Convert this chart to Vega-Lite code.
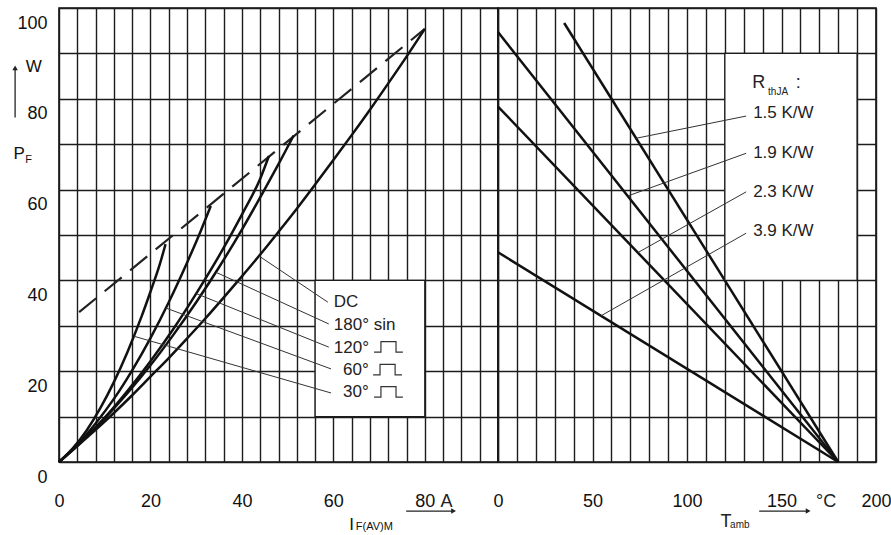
{
  "$schema": "https://vega.github.io/schema/vega-lite/v6.json",
  "padding": {"left": 11, "top": 7, "right": 0, "bottom": 0},
  "spacing": 0,
  "bounds": "flush",
  "config": {
    "view": {"stroke": "#111", "strokeWidth": 1.6},
    "font": "Liberation Sans",
    "axis": {"domain": false, "ticks": false, "grid": true, "gridColor": "#1c1c1c", "gridWidth": 1.4, "gridOpacity": 1, "labelFont": "Liberation Sans", "labelFontSize": 18, "labelColor": "#111", "labelOverlap": false, "labelFlush": false, "title": null},
    "text": {"font": "Liberation Sans", "color": "#111"}
  },
  "datasets": {
    "limit": [{"I": 4.4, "P": 33.0}, {"I": 80, "P": 95.4}],
    "curves": [
      {"mode": "30", "I": 0, "P": 0}, {"mode": "30", "I": 3, "P": 3.0}, {"mode": "30", "I": 6, "P": 6.9}, {"mode": "30", "I": 9, "P": 11.8}, {"mode": "30", "I": 12, "P": 17.6}, {"mode": "30", "I": 15, "P": 24.3}, {"mode": "30", "I": 18, "P": 31.9}, {"mode": "30", "I": 20, "P": 37.5}, {"mode": "30", "I": 22, "P": 43.4}, {"mode": "30", "I": 23.3, "P": 48.0},
      {"mode": "60", "I": 0, "P": 0}, {"mode": "60", "I": 4, "P": 3.8}, {"mode": "60", "I": 8, "P": 8.5}, {"mode": "60", "I": 12, "P": 13.9}, {"mode": "60", "I": 16, "P": 20.2}, {"mode": "60", "I": 20, "P": 27.3}, {"mode": "60", "I": 24, "P": 35.2}, {"mode": "60", "I": 28, "P": 43.9}, {"mode": "60", "I": 31, "P": 50.9}, {"mode": "60", "I": 33.2, "P": 56.4},
      {"mode": "120", "I": 0, "P": 0}, {"mode": "120", "I": 5, "P": 4.6}, {"mode": "120", "I": 10, "P": 9.8}, {"mode": "120", "I": 15, "P": 15.7}, {"mode": "120", "I": 20, "P": 22.2}, {"mode": "120", "I": 25, "P": 29.3}, {"mode": "120", "I": 30, "P": 37.1}, {"mode": "120", "I": 35, "P": 45.4}, {"mode": "120", "I": 40, "P": 54.5}, {"mode": "120", "I": 44, "P": 62.4}, {"mode": "120", "I": 45.9, "P": 67.4},
      {"mode": "180", "I": 0, "P": 0}, {"mode": "180", "I": 5, "P": 4.5}, {"mode": "180", "I": 10, "P": 9.6}, {"mode": "180", "I": 15, "P": 15.2}, {"mode": "180", "I": 20, "P": 21.3}, {"mode": "180", "I": 25, "P": 28.0}, {"mode": "180", "I": 30, "P": 35.2}, {"mode": "180", "I": 35, "P": 42.9}, {"mode": "180", "I": 40, "P": 51.2}, {"mode": "180", "I": 45, "P": 60.1}, {"mode": "180", "I": 48, "P": 65.6}, {"mode": "180", "I": 51.3, "P": 71.9},
      {"mode": "DC", "I": 0, "P": 0}, {"mode": "DC", "I": 4, "P": 3.5}, {"mode": "DC", "I": 8, "P": 7.1}, {"mode": "DC", "I": 12, "P": 10.8}, {"mode": "DC", "I": 16, "P": 14.7}, {"mode": "DC", "I": 20, "P": 18.8}, {"mode": "DC", "I": 24, "P": 22.9}, {"mode": "DC", "I": 28, "P": 27.2}, {"mode": "DC", "I": 32, "P": 31.6}, {"mode": "DC", "I": 36, "P": 36.2}, {"mode": "DC", "I": 40, "P": 40.9}, {"mode": "DC", "I": 44, "P": 45.7}, {"mode": "DC", "I": 48, "P": 50.7}, {"mode": "DC", "I": 52, "P": 55.8}, {"mode": "DC", "I": 56, "P": 61.1}, {"mode": "DC", "I": 60, "P": 66.5}, {"mode": "DC", "I": 64, "P": 72.0}, {"mode": "DC", "I": 68, "P": 77.6}, {"mode": "DC", "I": 72, "P": 83.4}, {"mode": "DC", "I": 76, "P": 89.3}, {"mode": "DC", "I": 80, "P": 95.4}
    ],
    "boxL": [{"I": 56, "I2": 80, "P": 10, "P2": 40}],
    "leadL": [
      {"I": 43.7, "P": 45.4, "I2": 58.8, "P2": 35.2},
      {"I": 34.3, "P": 41.8, "I2": 59.0, "P2": 30.4},
      {"I": 30.0, "P": 37.1, "I2": 59.0, "P2": 25.3},
      {"I": 23.4, "P": 33.9, "I2": 59.5, "P2": 20.5},
      {"I": 16.4, "P": 27.7, "I2": 59.5, "P2": 15.2}
    ],
    "labL": [
      {"I": 60.1, "P": 35.2, "text": "DC"},
      {"I": 60.1, "P": 30.2, "text": "180° sin"},
      {"I": 60.1, "P": 25.1, "text": "120°"},
      {"I": 62.1, "P": 20.3, "text": "60°"},
      {"I": 62.1, "P": 15.4, "text": "30°"}
    ],
    "pulse": [
      {"sym": "120", "k": 1, "I": 68.9, "P": 24.2}, {"sym": "120", "k": 2, "I": 70.4, "P": 24.2}, {"sym": "120", "k": 3, "I": 70.4, "P": 26.5}, {"sym": "120", "k": 4, "I": 73.7, "P": 26.5}, {"sym": "120", "k": 5, "I": 73.7, "P": 24.2}, {"sym": "120", "k": 6, "I": 75.2, "P": 24.2},
      {"sym": "60", "k": 1, "I": 68.7, "P": 19.2}, {"sym": "60", "k": 2, "I": 70.2, "P": 19.2}, {"sym": "60", "k": 3, "I": 70.2, "P": 21.5}, {"sym": "60", "k": 4, "I": 73.5, "P": 21.5}, {"sym": "60", "k": 5, "I": 73.5, "P": 19.2}, {"sym": "60", "k": 6, "I": 75.0, "P": 19.2},
      {"sym": "30", "k": 1, "I": 68.9, "P": 14.3}, {"sym": "30", "k": 2, "I": 70.4, "P": 14.3}, {"sym": "30", "k": 3, "I": 70.4, "P": 16.6}, {"sym": "30", "k": 4, "I": 73.7, "P": 16.6}, {"sym": "30", "k": 5, "I": 73.7, "P": 14.3}, {"sym": "30", "k": 6, "I": 75.2, "P": 14.3}
    ],
    "bigL": [
      {"I": -8.7, "P": 67.8, "text": "P"},
      {"I": -5.5, "P": 86.9, "text": "W"},
      {"I": 64.0, "P": -13.9, "text": "I"}
    ],
    "smallL": [
      {"I": -7.4, "P": 66.6, "text": "F"},
      {"I": 64.9, "P": -14.3, "text": "F(AV)M"}
    ],
    "arrowL": [{"I": -9.6, "P": 75.9, "P2": 86.8}],
    "headL": [{"I": -9.6, "P": 86.8}],
    "rth": [
      {"R": "1.5", "T": 35, "P": 96.7}, {"R": "1.5", "T": 180, "P": 0},
      {"R": "1.9", "T": 0, "P": 94.7}, {"R": "1.9", "T": 180, "P": 0},
      {"R": "2.3", "T": 0, "P": 78.3}, {"R": "2.3", "T": 180, "P": 0},
      {"R": "3.9", "T": 0, "P": 46.2}, {"R": "3.9", "T": 180, "P": 0}
    ],
    "boxR": [{"T": 120, "T2": 190, "P": 40, "P2": 90}],
    "leadR": [
      {"T": 73.0, "P": 71.3, "T2": 131.3, "P2": 76.2},
      {"T": 68.7, "P": 58.6, "T2": 131.3, "P2": 68.0},
      {"T": 73.9, "P": 46.1, "T2": 131.3, "P2": 59.5},
      {"T": 54.5, "P": 32.2, "T2": 131.3, "P2": 50.4}
    ],
    "labR": [
      {"T": 135, "P": 76.9, "text": "1.5 K/W"},
      {"T": 135, "P": 68.0, "text": "1.9 K/W"},
      {"T": 135, "P": 59.5, "text": "2.3 K/W"},
      {"T": 135, "P": 50.9, "text": "3.9 K/W"}
    ],
    "bigR": [
      {"T": 173.6, "P": -8.8, "text": "°C"},
      {"T": -27.3, "P": -8.8, "text": "A"},
      {"T": 120.7, "P": -13.2, "text": "T"},
      {"T": 137.9, "P": 83.4, "text": "R"},
      {"T": 158.8, "P": 83.4, "text": ":"}
    ],
    "smallR": [
      {"T": 122.8, "P": -13.9, "text": "amb"},
      {"T": 142.9, "P": 81.6, "text": "thJA"}
    ],
    "arrowR": [{"T": 138.2, "T2": 164.1, "P": -10.8}, {"T": -48.6, "T2": -23.5, "P": -10.8}],
    "headR": [{"T": 164.1, "P": -10.8}, {"T": -23.5, "P": -10.8}]
  },
  "hconcat": [
    {
      "width": 439,
      "height": 454,
      "encoding": {
        "x": {"field": "I", "type": "quantitative", "scale": {"domain": [0, 96], "nice": false, "zero": false},
          "axis": {"values": [0, 4, 8, 12, 16, 20, 24, 28, 32, 36, 40, 44, 48, 52, 56, 60, 64, 68, 72, 76, 80, 84, 88, 92, 96], "labelExpr": "datum.value % 20 == 0 && datum.value <= 80 ? datum.label : ''", "labelPadding": 30}},
        "y": {"field": "P", "type": "quantitative", "scale": {"domain": [0, 100], "nice": false, "zero": false},
          "axis": {"values": [0, 10, 20, 30, 40, 50, 60, 70, 80, 90, 100], "labelExpr": "datum.value % 20 == 0 ? datum.label : ''", "labelPadding": 12, "labelOffset": 15}}
      },
      "layer": [
        {
          "data": {"name": "limit"},
          "mark": {"type": "line", "color": "#222", "strokeWidth": 2.2, "strokeDash": [22, 11]}
        },
        {
          "data": {"name": "curves"},
          "mark": {"type": "line", "color": "#111", "strokeWidth": 2.5, "interpolate": "monotone"},
          "encoding": {"detail": {"field": "mode"}}
        },
        {
          "data": {"name": "boxL"},
          "mark": {"type": "rect", "fill": "white", "stroke": "#1c1c1c", "strokeWidth": 1.4},
          "encoding": {"x2": {"field": "I2"}, "y2": {"field": "P2"}}
        },
        {
          "data": {"name": "leadL"},
          "mark": {"type": "rule", "color": "#333", "strokeWidth": 1},
          "encoding": {"x2": {"field": "I2"}, "y2": {"field": "P2"}}
        },
        {
          "data": {"name": "labL"},
          "mark": {"type": "text", "align": "left", "baseline": "middle", "fontSize": 17, "color": "#222"},
          "encoding": {"text": {"field": "text"}}
        },
        {
          "data": {"name": "pulse"},
          "mark": {"type": "line", "color": "#333", "strokeWidth": 1.2},
          "encoding": {"detail": {"field": "sym"}, "order": {"field": "k", "type": "quantitative"}}
        },
        {
          "data": {"name": "bigL"},
          "mark": {"type": "text", "align": "center", "baseline": "middle", "fontSize": 17},
          "encoding": {"text": {"field": "text"}}
        },
        {
          "data": {"name": "smallL"},
          "mark": {"type": "text", "align": "left", "baseline": "middle", "fontSize": 11},
          "encoding": {"text": {"field": "text"}}
        },
        {
          "data": {"name": "arrowL"},
          "mark": {"type": "rule", "color": "#222", "strokeWidth": 1.3},
          "encoding": {"y2": {"field": "P2"}}
        },
        {
          "data": {"name": "headL"},
          "mark": {"type": "point", "filled": true, "color": "#222", "size": 30, "opacity": 1, "shape": "triangle-up"}
        }
      ]
    },
    {
      "width": 378,
      "height": 454,
      "encoding": {
        "x": {"field": "T", "type": "quantitative", "scale": {"domain": [0, 200], "nice": false, "zero": false},
          "axis": {"values": [0, 10, 20, 30, 40, 50, 60, 70, 80, 90, 100, 110, 120, 130, 140, 150, 160, 170, 180, 190, 200], "labelExpr": "datum.value % 50 == 0 ? datum.label : ''", "labelPadding": 30}},
        "y": {"field": "P", "type": "quantitative", "scale": {"domain": [0, 100], "nice": false, "zero": false},
          "axis": {"values": [0, 10, 20, 30, 40, 50, 60, 70, 80, 90, 100], "labels": false}}
      },
      "layer": [
        {
          "data": {"name": "rth"},
          "mark": {"type": "line", "color": "#111", "strokeWidth": 2.5},
          "encoding": {"detail": {"field": "R"}}
        },
        {
          "data": {"name": "boxR"},
          "mark": {"type": "rect", "fill": "white", "stroke": "#1c1c1c", "strokeWidth": 1.4},
          "encoding": {"x2": {"field": "T2"}, "y2": {"field": "P2"}}
        },
        {
          "data": {"name": "leadR"},
          "mark": {"type": "rule", "color": "#333", "strokeWidth": 1},
          "encoding": {"x2": {"field": "T2"}, "y2": {"field": "P2"}}
        },
        {
          "data": {"name": "labR"},
          "mark": {"type": "text", "align": "left", "baseline": "middle", "fontSize": 17, "color": "#222"},
          "encoding": {"text": {"field": "text"}}
        },
        {
          "data": {"name": "bigR"},
          "mark": {"type": "text", "align": "center", "baseline": "middle", "fontSize": 18, "color": "#222"},
          "encoding": {"text": {"field": "text"}}
        },
        {
          "data": {"name": "smallR"},
          "mark": {"type": "text", "align": "left", "baseline": "middle", "fontSize": 10, "color": "#222"},
          "encoding": {"text": {"field": "text"}}
        },
        {
          "data": {"name": "arrowR"},
          "mark": {"type": "rule", "color": "#222", "strokeWidth": 1.3},
          "encoding": {"x2": {"field": "T2"}}
        },
        {
          "data": {"name": "headR"},
          "mark": {"type": "point", "filled": true, "color": "#222", "size": 30, "opacity": 1, "shape": "triangle-right"}
        }
      ]
    }
  ]
}
